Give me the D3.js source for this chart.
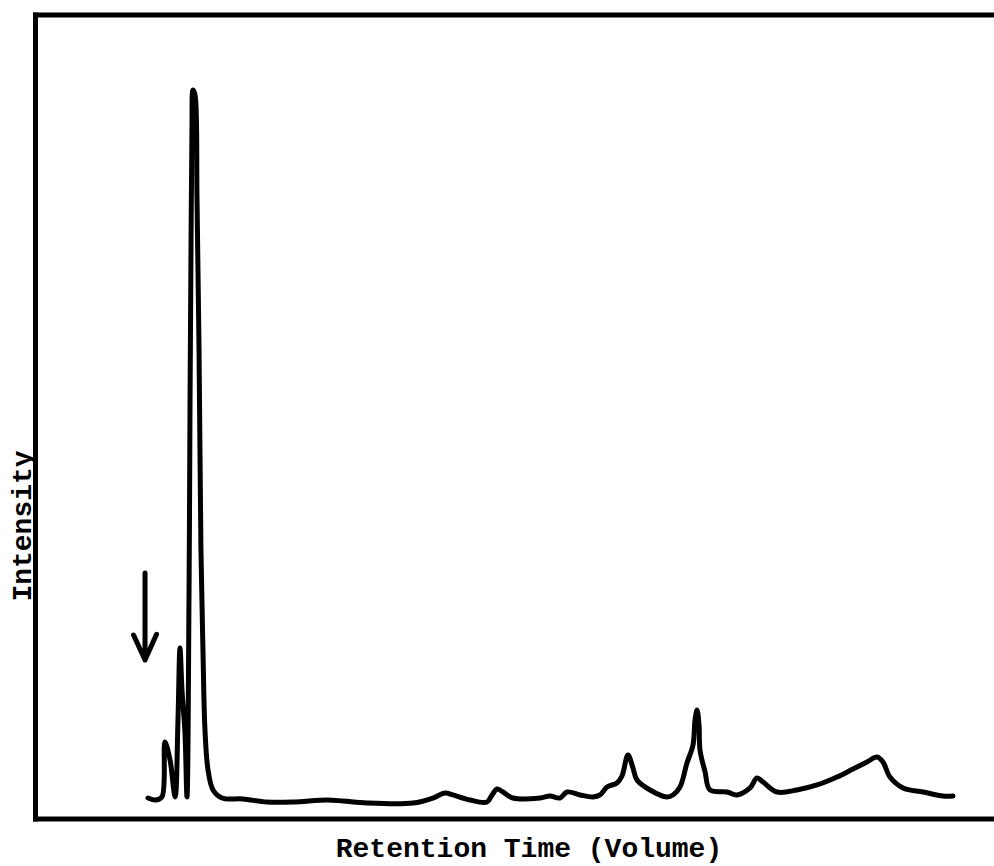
<!DOCTYPE html>
<meta charset="utf-8">
<style>
    body { margin: 0; background: #fff; }
    .trace { fill: none; stroke: #000; stroke-width: 5; stroke-linejoin: round; stroke-linecap: round; }
    .frame line { stroke: #000; stroke-width: 5; stroke-linecap: square; }
    .arrow { fill: none; stroke: #000; stroke-width: 5; stroke-linecap: round; stroke-linejoin: round; }
    .label { font-family: "Liberation Mono", "DejaVu Sans Mono", monospace; font-weight: bold; font-size: 28px; fill: #000; }
</style>
<svg width="994" height="866"></svg>
<script src="https://d3js.org/d3.v7.min.js"></script>
<script>

// retention (0-100 across the frame) and intensity (0-100 frame height)
var retention = [11.75, 12.58, 13.21, 13.52, 14.05, 14.58, 14.88, 15.09, 15.30, 15.61, 15.82,
    16.03, 16.14, 16.24, 16.34, 16.45, 16.66, 16.87, 17.08, 17.28, 17.49, 17.70, 18.02, 18.54, 19.48,
    21.67, 24.18, 26.89, 30.44, 32.11, 34.62, 39.43, 41.51, 42.77, 43.60, 45.38, 47.15, 47.68, 48.20,
    48.83, 49.87, 52.69, 53.73, 54.78, 55.51, 56.87, 58.22, 58.96, 59.69, 60.73, 61.25, 61.88, 62.40,
    62.82, 64.18, 65.95, 66.58, 67.31, 68.04, 68.67, 68.88, 69.09, 69.30, 69.40, 69.93, 70.44, 72.22,
    73.26, 74.62, 75.35, 75.98, 77.44, 79.53, 81.62, 83.71, 85.38, 86.84, 87.89, 88.51, 89.24, 90.60,
    92.69, 94.78, 95.82];
var intensity = [2.61, 2.36, 2.74, 9.58, 7.34, 2.74, 12.31, 21.27, 16.04, 10.70, 2.74,
    27.24, 52.11, 70.77, 85.70, 90.67, 90.05, 77.0, 58.33, 33.46, 21.02, 11.07, 6.09, 3.61, 2.61,
    2.49, 2.11, 2.11, 2.36, 2.24, 1.99, 1.99, 2.61, 3.23, 2.99, 2.36, 2.11, 2.99, 3.73,
    3.36, 2.61, 2.61, 2.86, 2.61, 3.36, 2.99, 2.74, 2.99, 3.98, 4.48, 5.35, 7.96, 6.34,
    4.85, 3.61, 2.74, 2.99, 3.98, 6.97, 9.20, 12.31, 13.56, 11.69, 8.58, 5.85, 3.61, 3.36,
    2.99, 3.86, 5.10, 4.60, 3.36, 3.61, 4.23, 5.22, 6.22, 7.09, 7.71, 7.09, 5.22, 3.86,
    3.36, 2.86, 2.86];

// injection marker
var injection = {x: 11.44, top: 30.6, tip: 19.78};

var svg = d3.select("svg");

var x = d3.scaleLinear().domain([0, 100]).range([35.5, 993]),
    y = d3.scaleLinear().domain([0, 100]).range([819, 15]);

var data = retention.map(function(r, i) { return [r, intensity[i]]; });

// hand drawn frame, open on the right
var frame = svg.append("g").attr("class", "frame");
frame.append("line").attr("x1", x(0)).attr("x2", x(0)).attr("y1", y(100)).attr("y2", y(0));
frame.append("line").attr("x1", x(0)).attr("x2", x(100)).attr("y1", y(100)).attr("y2", y(100));
frame.append("line").attr("x1", x(0)).attr("x2", x(100)).attr("y1", y(0)).attr("y2", y(0));

var line = d3.line()
    .x(function(d) { return x(d[0]); })
    .y(function(d) { return y(d[1]); })
    .curve(d3.curveCatmullRom.alpha(0.5));

svg.append("path")
    .datum(data)
    .attr("class", "trace")
    .attr("d", line);

// arrow
var arrow = d3.path();
arrow.moveTo(x(injection.x), y(injection.top));
arrow.lineTo(x(injection.x), y(injection.tip));
arrow.moveTo(x(injection.x - 1.2), y(injection.tip + 3.1));
arrow.lineTo(x(injection.x), y(injection.tip));
arrow.lineTo(x(injection.x + 1.2), y(injection.tip + 3.2));
svg.append("path").attr("class", "arrow").attr("d", arrow.toString());

svg.append("text")
    .attr("class", "label")
    .attr("x", 529)
    .attr("y", 857)
    .attr("text-anchor", "middle")
    .text("Retention Time (Volume)");

svg.append("text")
    .attr("class", "label")
    .attr("transform", "translate(31,526) rotate(-90)")
    .attr("text-anchor", "middle")
    .text("Intensity");

</script>
